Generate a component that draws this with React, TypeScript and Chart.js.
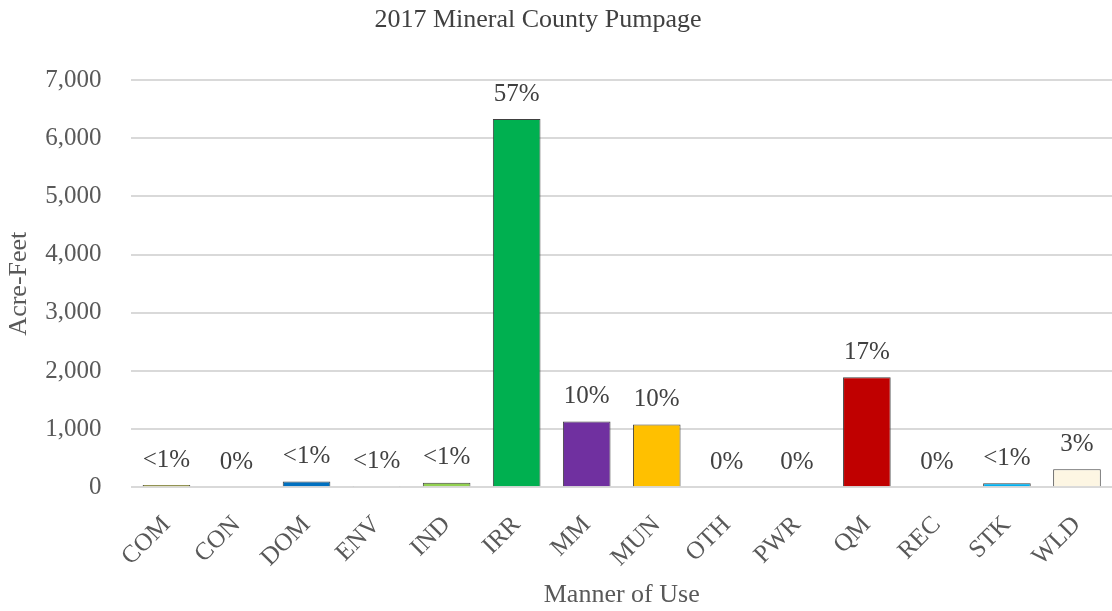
import React, { useEffect, useRef } from "react";
import { Chart, registerables } from "chart.js";

Chart.register(...registerables);

const categories = ["COM", "CON", "DOM", "ENV", "IND", "IRR", "MM", "MUN", "OTH", "PWR", "QM", "REC", "STK", "WLD"];
const acreFeet = [40, 0, 100, 15, 80, 6330, 1130, 1080, 0, 0, 1890, 0, 70, 310];
const percentLabels = ["<1%", "0%", "<1%", "<1%", "<1%", "57%", "10%", "10%", "0%", "0%", "17%", "0%", "<1%", "3%"];
const barColors = ["#FFFF00", "#D9D9D9", "#0070C0", "#E7E6E6", "#92D050", "#00B050", "#7030A0", "#FFC000", "#A6A6A6", "#808080", "#C00000", "#5B9BD5", "#00B0F0", "#FDF6E3"];
const yTicks = [0, 1000, 2000, 3000, 4000, 5000, 6000, 7000];
const chartTitle = "2017 Mineral County Pumpage";

const FONT = "'Liberation Serif', 'Times New Roman', serif";

const labelPlugin = {
  id: "pctLabels",
  afterDatasetsDraw(chart: any) {
    const ctx = chart.ctx;
    const meta = chart.getDatasetMeta(0);
    ctx.save();
    ctx.font = `25px ${FONT}`;
    ctx.fillStyle = "#404040";
    ctx.textAlign = "center";
    ctx.textBaseline = "middle";
    meta.data.forEach((bar: any, i: number) => {
      ctx.fillText(percentLabels[i], bar.x, bar.y - 25);
    });
    ctx.restore();
  },
};

const titlePlugin = {
  id: "leftTitle",
  afterDraw(chart: any) {
    const ctx = chart.ctx;
    ctx.save();
    ctx.font = `26px ${FONT}`;
    ctx.fillStyle = "#404040";
    ctx.textAlign = "center";
    ctx.textBaseline = "alphabetic";
    ctx.fillText(chartTitle, 538, 27);
    ctx.restore();
  },
};

export default function App() {
  const ref = useRef<HTMLCanvasElement>(null);
  useEffect(() => {
    if (!ref.current) return;
    const chart = new Chart(ref.current, {
      type: "bar",
      data: {
        labels: categories,
        datasets: [
          {
            data: acreFeet,
            backgroundColor: barColors,
            borderColor: "#404040",
            borderWidth: 1,
            borderDash: [2, 1],
            categoryPercentage: 1,
            barPercentage: 0.68,
          } as any,
        ],
      },
      options: {
        animation: false,
        responsive: false,
        maintainAspectRatio: false,
        layout: { padding: { left: 4, right: 0, top: 80, bottom: 0 } },
        plugins: {
          legend: { display: false },
          tooltip: { enabled: false },
          title: { display: false },
        },
        scales: {
          x: {
            grid: { display: true, drawOnChartArea: false, drawTicks: true, tickLength: 23, tickColor: "rgba(0,0,0,0)" },
            border: { display: false },
            ticks: {
              color: "#595959",
              font: { family: FONT, size: 25 },
              minRotation: 45,
              maxRotation: 45,
              padding: 0,
            },
            title: {
              display: true,
              text: "Manner of Use",
              color: "#595959",
              font: { family: FONT, size: 26 },
              padding: { top: 7, bottom: 0 },
            },
          },
          y: {
            min: 0,
            max: 7000,
            afterBuildTicks: (axis: any) => {
              axis.ticks = yTicks.map((v) => ({ value: v }));
            },
            grid: { color: "#D9D9D9", lineWidth: 2, drawTicks: true, tickLength: 28, tickColor: "rgba(0,0,0,0)" },
            border: { display: false },
            ticks: {
              color: "#595959",
              font: { family: FONT, size: 25 },
              padding: 2,
              callback: (v: any) => Number(v).toLocaleString("en-US"),
            },
            title: {
              display: true,
              text: "Acre-Feet",
              color: "#595959",
              font: { family: FONT, size: 26 },
              padding: { top: 0, bottom: 8 },
            },
          },
        },
      },
      plugins: [labelPlugin, titlePlugin],
    });
    return () => chart.destroy();
  }, []);
  return (
    <div style={{ position: "fixed", left: 0, top: 0, width: 1112, height: 611, background: "#fff" }}>
      <canvas ref={ref} width={1112} height={611} style={{ width: 1112, height: 611 }} />
    </div>
  );
}
